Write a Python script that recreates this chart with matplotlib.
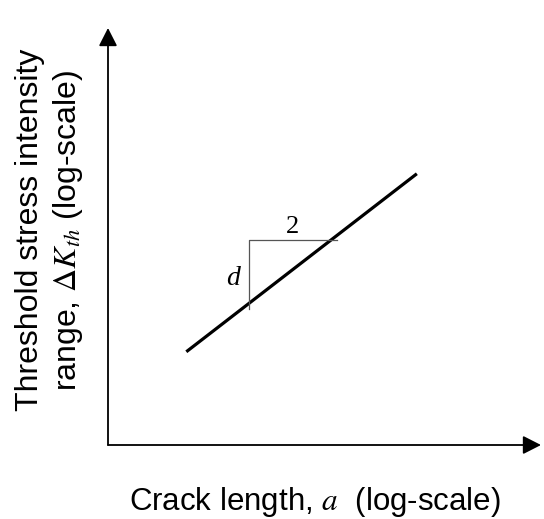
import matplotlib.pyplot as plt

# schematic data (log-log)
crack_len = [2.3, 26.7]
dk_th = [2.8, 20.0]

# slope triangle: corner, horizontal end, vertical end
tri_a = [4.48, 4.48, 11.4]
tri_k = [4.5, 9.6, 9.6]

plt.rcParams['font.family'] = ['Liberation Sans', 'DejaVu Sans']
plt.rcParams['mathtext.fontset'] = 'stix'

fig = plt.figure(figsize=(5.44, 5.19), dpi=100)
ax = fig.add_axes([108 / 544, 74 / 519, 433 / 544, 417 / 519])
ax.set_xscale('log')
ax.set_yscale('log')
ax.set_xlim(1, 100)
ax.set_ylim(1, 100)

# main line
ax.plot(crack_len, dk_th, color='black', lw=2.3, solid_capstyle='butt')

# slope triangle
ax.plot(tri_a, tri_k, color='#555555', lw=0.9)
ax.text(7.15, 11.1, '2', fontsize=19, family='Liberation Serif', ha='center', va='center')
ax.text(4.07, 6.3, 'd', fontsize=20, family='Liberation Serif', style='italic',
        ha='right', va='center')

# axes as arrows
for s in ax.spines.values():
    s.set_visible(False)
ax.set_xticks([])
ax.set_yticks([])
ax.minorticks_off()
ax.tick_params(which='both', length=0)
ax.set_xticklabels([], minor=True)
ax.set_yticklabels([], minor=True)

arrow = dict(arrowstyle='-|>,head_length=0.55,head_width=0.28', color='black', lw=1.3,
             shrinkA=0, shrinkB=0, mutation_scale=20)
ax.annotate('', xy=(0, 1), xytext=(0, 0), xycoords='axes fraction',
            arrowprops=arrow, annotation_clip=False)
ax.annotate('', xy=(1, 0), xytext=(0, 0), xycoords='axes fraction',
            arrowprops=arrow, annotation_clip=False)

fig.text(315 / 544, 1 - 510 / 519, r'Crack length, $a$  (log-scale)', fontsize=22.5,
         ha='center', va='baseline')
fig.text(50 / 544, 1 - 230 / 519,
         'Threshold stress intensity\nrange, $\\Delta K_{th}$ (log-scale)',
         fontsize=23, ha='center', va='center', rotation=90, linespacing=1.25)

fig.savefig('out.png', dpi=100)
